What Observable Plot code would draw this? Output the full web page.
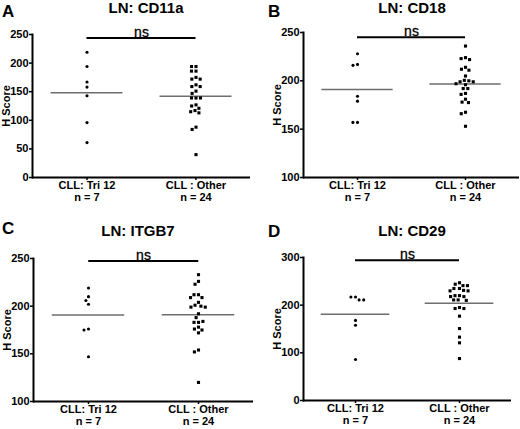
<!DOCTYPE html>
<html>
<head>
<meta charset="utf-8">
<script src="https://cdn.jsdelivr.net/npm/d3@7"></script>
<script src="https://cdn.jsdelivr.net/npm/@observablehq/plot@0.6"></script>
<style>
  body { margin: 0; background: #fff; }
  #fig { position: relative; width: 520px; height: 429px; overflow: hidden;
         font-family: "Liberation Sans", Arial, sans-serif; color: #000; }
  .panel { position: absolute; width: 260px; }
  .panel svg { position: absolute; left: 0; top: 0; }
  .letter { position: absolute; font-weight: bold; font-size: 17px; line-height: 17px; }
  .title { position: absolute; width: 200px; text-align: center; font-weight: bold;
           font-size: 15px; line-height: 15px; white-space: nowrap; }
</style>
</head>
<body>
<div id="fig"></div>
<script>
// groups on the x axis
const groups = ["CLL: Tri 12", "CLL : Other"]
const groupN = ["n = 7", "n = 24"]

const letters = ["A", "B", "C", "D"]
const titles = ["LN: CD11a", "LN: CD18", "LN: ITGB7", "LN: CD29"]

// H scores
const cd11aTri12 = [219, 194, 167, 158, 143, 96, 61]
const cd11aOther = [194, 194, 186, 186, 175, 172, 172, 162, 159, 159, 151, 147,
                    139, 139, 139, 127, 125, 121, 117, 115, 113, 88, 84, 40]
const cd18Tri12 = [228, 217, 216, 184, 179, 157, 157]
const cd18Other = [236, 224, 223, 222, 214, 212, 211, 205, 200.5, 200, 199, 199,
                   197, 196, 192, 192, 187, 186, 181, 178, 177.5, 167.5, 166, 153]
const itgb7Tri12 = [219, 210, 206, 202, 176, 175, 147]
const itgb7Other = [233, 226, 223, 212, 212, 209, 209, 204, 201, 200, 199, 199,
                    192, 188, 183, 183, 184, 178, 176, 175, 172, 154, 152, 120]
const cd29Tri12 = [217, 217, 211, 211, 168, 158, 86]
const cd29Other = [247, 244, 241, 241, 235, 235, 231, 230, 230, 220, 220, 218,
                   218, 211, 211, 210, 195, 193, 193, 177, 151, 133, 121, 88]

const yDomains = [[0, 250], [100, 250], [100, 250], [0, 300]]
const yTicks = [[0, 50, 100, 150, 200, 250], [100, 150, 200, 250], [100, 150, 200, 250], [0, 100, 200, 300]]
const nsLevels = [244, 245, 247.5, 294]

const tri12 = [cd11aTri12, cd18Tri12, itgb7Tri12, cd29Tri12]
const other = [cd11aOther, cd18Other, itgb7Other, cd29Other]

// where each panel sits
const layout = [
  {left: 0,   top: 0,   h: 215, ml: 32, mr: 10, mt: 34, mb: 38, lx: 2, ly: 3,   tx: 146, ty: 0},
  {left: 260, top: 0,   h: 215, ml: 43, mr: 1,  mt: 32, mb: 38, lx: 8, ly: 3,   tx: 152, ty: 0},
  {left: 0,   top: 215, h: 214, ml: 32, mr: 7,  mt: 43, mb: 28, lx: 2, ly: 4.5, tx: 138, ty: 8},
  {left: 260, top: 215, h: 214, ml: 43, mr: 9,  mt: 42, mb: 29, lx: 8, ly: 8,   tx: 152, ty: 8}
]

const FONT = "'Liberation Sans', Arial, sans-serif"

function panel(k) {
  const L = layout[k]
  const triRows = tri12[k].map(v => ({group: groups[0], value: v}))
  const otherRows = other[k].map(v => ({group: groups[1], value: v}))
  const rows = triRows.concat(otherRows)
  const bw = (260 - L.ml - L.mr) / 2
  const ns = [{group: groups[0], y: nsLevels[k]}]

  return Plot.plot({
    width: 260,
    height: L.h,
    marginLeft: L.ml, marginRight: L.mr, marginTop: L.mt, marginBottom: L.mb,
    style: {fontFamily: FONT, fontSize: "11px", color: "black", background: "transparent", overflow: "visible"},
    fx: {domain: groups, padding: 0, label: null},
    y: {domain: yDomains[k], label: "H Score"},
    marks: [
      Plot.ruleY([yDomains[k][0]], {strokeWidth: 2}),
      Plot.frame({anchor: "left", facetAnchor: "left", strokeWidth: 2}),
      Plot.axisY({ticks: yTicks[k], tickSize: 3, tickPadding: 1, strokeWidth: 1.5,
        fontWeight: "bold", label: "H Score", labelAnchor: "center", labelOffset: 30, labelArrow: "none"}),
      Plot.axisFx({anchor: "bottom", tickSize: 3, tickPadding: 0, strokeWidth: 1.5,
        fontWeight: "bold", fontSize: 11, lineHeight: 1.1, label: null,
        tickFormat: d => d + "\n" + groupN[groups.indexOf(d)]}),
      // group means
      Plot.ruleY(rows, Plot.groupZ({y: "mean"}, {fx: "group", y: "value",
        stroke: "#6e6e6e", strokeWidth: 1.5, insetLeft: bw * 0.17, insetRight: bw * 0.17})),
      // ns bracket
      Plot.ruleY(ns, {fx: "group", y: "y", strokeWidth: 2, insetLeft: bw / 2, insetRight: -bw / 2}),
      Plot.text(ns, {fx: "group", y: "y", text: () => "ns", frameAnchor: "right", fill: "black",
        stroke: "black", strokeWidth: 0.3, textAnchor: "middle", lineAnchor: "bottom", dy: -1, fontSize: 14}),
      Plot.dot(triRows, Plot.dodgeX({anchor: "middle", padding: 1.5},
        {fx: "group", y: "value", r: 1.55, symbol: "circle", fill: "black"})),
      Plot.dot(otherRows, Plot.dodgeX({anchor: "middle", padding: 1},
        {fx: "group", y: "value", r: 1.75, symbol: "square", fill: "black"}))
    ]
  })
}

const fig = d3.select("#fig")
layout.forEach((L, k) => {
  const div = fig.append("div").attr("class", "panel")
    .style("left", L.left + "px").style("top", L.top + "px").style("height", L.h + "px")
  div.append(() => panel(k))
  div.append("div").attr("class", "letter")
    .style("left", L.lx + "px").style("top", L.ly + "px").text(letters[k])
  div.append("div").attr("class", "title")
    .style("left", (L.tx - 100) + "px").style("top", L.ty + "px").text(titles[k])
})
</script>
</body>
</html>
